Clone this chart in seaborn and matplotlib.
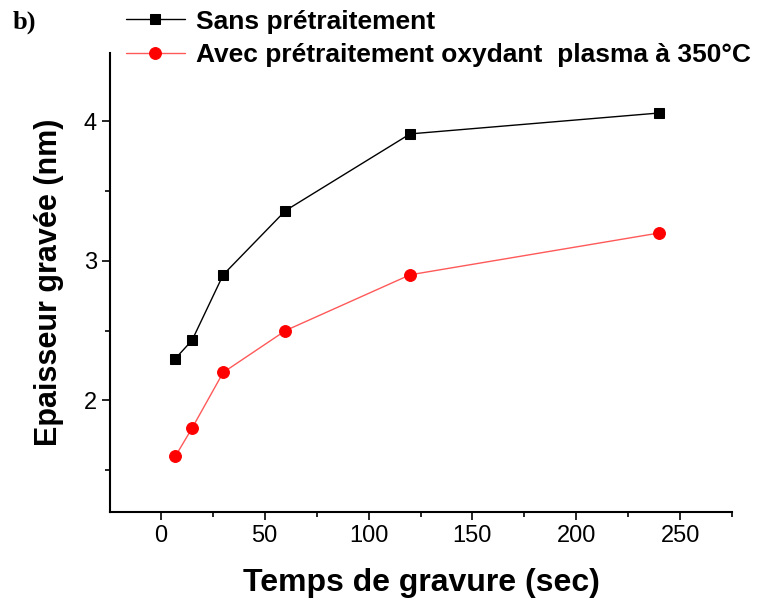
import matplotlib
matplotlib.use('Agg')
import matplotlib.pyplot as plt
import seaborn as sns
import pandas as pd
from matplotlib.ticker import MultipleLocator

# data
temps = [7, 15, 30, 60, 120, 240]
sans_pretraitement = [2.30, 2.43, 2.90, 3.36, 3.91, 4.06]
avec_pretraitement = [1.60, 1.80, 2.20, 2.50, 2.90, 3.20]
labels = ['Sans prétraitement', 'Avec prétraitement oxydant  plasma à 350°C']

df_sans = pd.DataFrame({'temps': temps, 'ep': sans_pretraitement})
df_avec = pd.DataFrame({'temps': temps, 'ep': avec_pretraitement})

sns.set_style("ticks")
plt.rcParams['font.family'] = ['Liberation Sans', 'DejaVu Sans']
plt.rcParams['text.color'] = 'black'
plt.rcParams['axes.labelcolor'] = 'black'
plt.rcParams['xtick.color'] = 'black'
plt.rcParams['ytick.color'] = 'black'

fig = plt.figure(figsize=(7.61, 6.0), dpi=100)
ax = fig.add_axes([0.1445, 0.1467, 0.8175, 0.765])

sns.lineplot(data=df_sans, x='temps', y='ep', ax=ax, color='black', marker='s',
             markersize=7.5, linewidth=1, markeredgecolor='black', label=labels[0])
sns.lineplot(data=df_avec, x='temps', y='ep', ax=ax, color='red', marker='o',
             markersize=8.5, linewidth=1, markeredgecolor='red', label=labels[1])
# lighter red line like the reference
ax.lines[1].set_color((1, 0.35, 0.35))
ax.lines[1].set_markerfacecolor('red')
ax.lines[1].set_markeredgecolor('red')

ax.set_xlim(-24.5, 275)
ax.set_ylim(1.2, 4.49)
ax.xaxis.set_major_locator(MultipleLocator(50))
ax.xaxis.set_minor_locator(MultipleLocator(25))
ax.yaxis.set_major_locator(MultipleLocator(1))
ax.yaxis.set_minor_locator(MultipleLocator(0.5))
ax.tick_params(which='major', length=6, width=1.2, labelsize=17, color='black')
ax.tick_params(which='minor', length=3.5, width=1.2, color='black')
for s in ['left', 'bottom']:
    ax.spines[s].set_linewidth(1.5)
    ax.spines[s].set_color('black')
sns.despine(ax=ax)

ax.set_xlabel('Temps de gravure (sec)', fontsize=23, fontweight='bold', labelpad=15)
ax.set_ylabel('Epaisseur gravée (nm)', fontsize=22, fontweight='bold', labelpad=14)

h, l = ax.get_legend_handles_labels()
ax.get_legend().remove()
fig.legend(h, l, loc='upper left', bbox_to_anchor=(0.1656, 0.984), frameon=False,
           prop={'size': 19, 'weight': 'bold'}, handlelength=2.23, handletextpad=0.42,
           labelspacing=0.36, borderaxespad=0, borderpad=0)

fig.text(0.016, 0.953, 'b)', fontsize=19, fontweight='bold', family='Liberation Serif',
         va='baseline')

fig.savefig('out.png', dpi=100)
